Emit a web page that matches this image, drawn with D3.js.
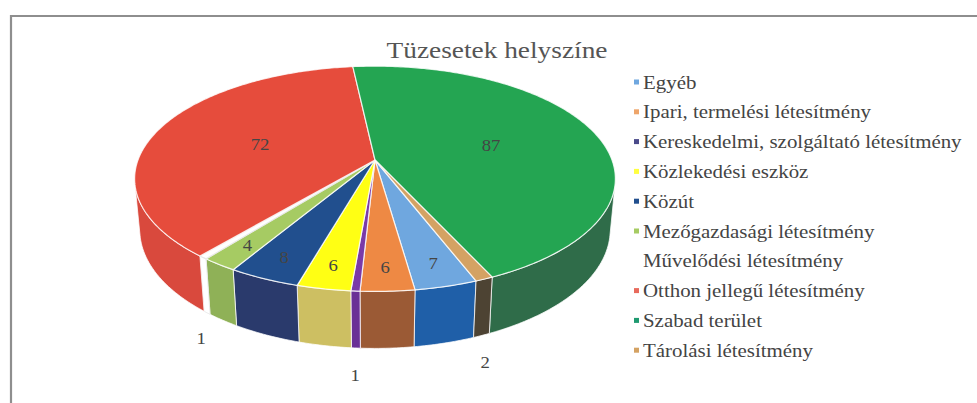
<!DOCTYPE html>
<html>
<head>
<meta charset="utf-8">
<script src="https://cdn.jsdelivr.net/npm/d3@7"></script>
<style>
  html, body { margin: 0; padding: 0; background: #ffffff; }
  svg { display: block; }
  svg text { font-family: "Liberation Serif", "Times New Roman", "DejaVu Serif", serif; }
</style>
</head>
<body>
<svg id="chart" width="977" height="403"></svg>
<script>
// Fire incidents by location
const title = "Tüzesetek helyszíne";
const categories = [
  "Egyéb",
  "Ipari, termelési létesítmény",
  "Kereskedelmi, szolgáltató létesítmény",
  "Közlekedési eszköz",
  "Közút",
  "Mezőgazdasági létesítmény",
  "Művelődési létesítmény",
  "Otthon jellegű létesítmény",
  "Szabad terület",
  "Tárolási létesítmény"
];
const values = [7, 6, 1, 6, 8, 4, 1, 72, 87, 2];
const topColors = ["#6fa7df", "#ee8944", "#7a3aa8", "#ffff14", "#214f8e", "#a6cb63", "#ffffff", "#e64c3c", "#24a552", "#d4a263"];
const sideColors = ["#1f5fa8", "#9b5a35", "#6a3096", "#cdbf62", "#2a3a6c", "#8fb157", "#ffffff", "#d9493d", "#2f6c49", "#4d4333"];
const legendColors = ["#6fa7df", "#eea56a", "#4a4a8a", "#ffff40", "#214f8e", "#a6cb63", "#ffffff", "#e86a5c", "#1f9a70", "#d4a263"];

const svg = d3.select("#chart");

// chart frame
svg.append("path")
  .attr("d", "M11,403 L11,16 L977,16")
  .attr("fill", "none")
  .attr("stroke", "#8e8e8e")
  .attr("stroke-width", 2.2);

// title
svg.append("text")
  .attr("transform", "translate(497,50) scale(1.14,1)")
  .attr("text-anchor", "middle")
  .attr("dominant-baseline", "central")
  .attr("font-size", 24)
  .attr("fill", "#555555")
  .text(title);

// perspective projection of a unit-radius disc
const elev = Math.asin(0.462);
const sa = Math.sin(elev), ca = Math.cos(elev);
const D = 5.32;          // camera distance in radius units
const thick = 0.245;     // disc thickness in radius units
const cx = 375, cy = 160;
const rScale = d3.scaleLinear().domain([0, 1]).range([0, 237]);

function project(r, theta, h) {
  const X = r * Math.sin(theta), Z = -r * Math.cos(theta);
  const w = h * sa + Z * ca;
  const up = h * ca - Z * sa;
  const s = D / (D - w);
  return [cx + rScale(X * s), cy - rScale(up * s)];
}

function arcPoints(a0, a1, r, h) {
  const n = Math.max(2, Math.ceil(Math.abs(a1 - a0) / (Math.PI / 240)));
  return d3.range(n + 1).map(i => project(r, a0 + (a1 - a0) * i / n, h));
}

const startDeg = 158.9;
const pie = d3.pie().sort(null).value(d => d)
  .startAngle(startDeg * Math.PI / 180)
  .endAngle(startDeg * Math.PI / 180 + 2 * Math.PI);
const arcs = pie(values);

// visible part of the outer wall
const tv = Math.acos(-1 / (D * ca));
const visible = [[tv, 2 * Math.PI - tv], [tv + 2 * Math.PI, 4 * Math.PI - tv]];

const g = svg.append("g");

// side walls
arcs.forEach((a, i) => {
  visible.forEach(([v0, v1]) => {
    const a0 = Math.max(a.startAngle, v0), a1 = Math.min(a.endAngle, v1);
    if (a1 <= a0) return;
    const top = arcPoints(a0, a1, 1, 0);
    const bot = arcPoints(a0, a1, 1, -thick).reverse();
    const p = d3.path();
    top.forEach((pt, k) => k ? p.lineTo(pt[0], pt[1]) : p.moveTo(pt[0], pt[1]));
    bot.forEach(pt => p.lineTo(pt[0], pt[1]));
    p.closePath();
    g.append("path")
      .attr("d", p.toString())
      .attr("fill", sideColors[i])
      .attr("stroke", i === 6 ? "#e4e4e4" : "#ffffff")
      .attr("stroke-opacity", 0.75)
      .attr("stroke-width", 1);
  });
});

// top faces
arcs.forEach((a, i) => {
  const c = project(0, 0, 0);
  const p = d3.path();
  p.moveTo(c[0], c[1]);
  arcPoints(a.startAngle, a.endAngle, 1, 0).forEach(pt => p.lineTo(pt[0], pt[1]));
  p.closePath();
  g.append("path")
    .attr("d", p.toString())
    .attr("fill", topColors[i])
    .attr("stroke", i === 6 ? "#e4e4e4" : "#ffffff")
    .attr("stroke-opacity", 0.8)
    .attr("stroke-width", 1.2)
    .attr("stroke-linejoin", "round");
});

// data labels
arcs.forEach((a, i) => {
  const mid = (a.startAngle + a.endAngle) / 2;
  let pos;
  if (a.data >= 4) {
    pos = project(a.data > 20 ? 0.52 : 0.84, mid, 0);
  } else {
    const b = project(1.03, mid, -thick);
    pos = [b[0], b[1] + 22];
  }
  svg.append("text")
    .attr("transform", `translate(${pos[0]},${pos[1]}) scale(1.1,1)`)
    .attr("text-anchor", "middle")
    .attr("dominant-baseline", "central")
    .attr("font-size", 17)
    .attr("fill", "#454545")
    .text(a.data);
});

// legend
const legend = svg.append("g");
categories.forEach((name, i) => {
  const y = 82 + i * 29.8;
  legend.append("rect")
    .attr("x", 634).attr("y", y - 2.5)
    .attr("width", 5).attr("height", 5)
    .attr("fill", legendColors[i]);
  legend.append("text")
    .attr("transform", `translate(643,${y}) scale(1.1,1)`)
    .attr("dominant-baseline", "central")
    .attr("font-size", 19)
    .attr("fill", "#444444")
    .text(name);
});
</script>
</body>
</html>
